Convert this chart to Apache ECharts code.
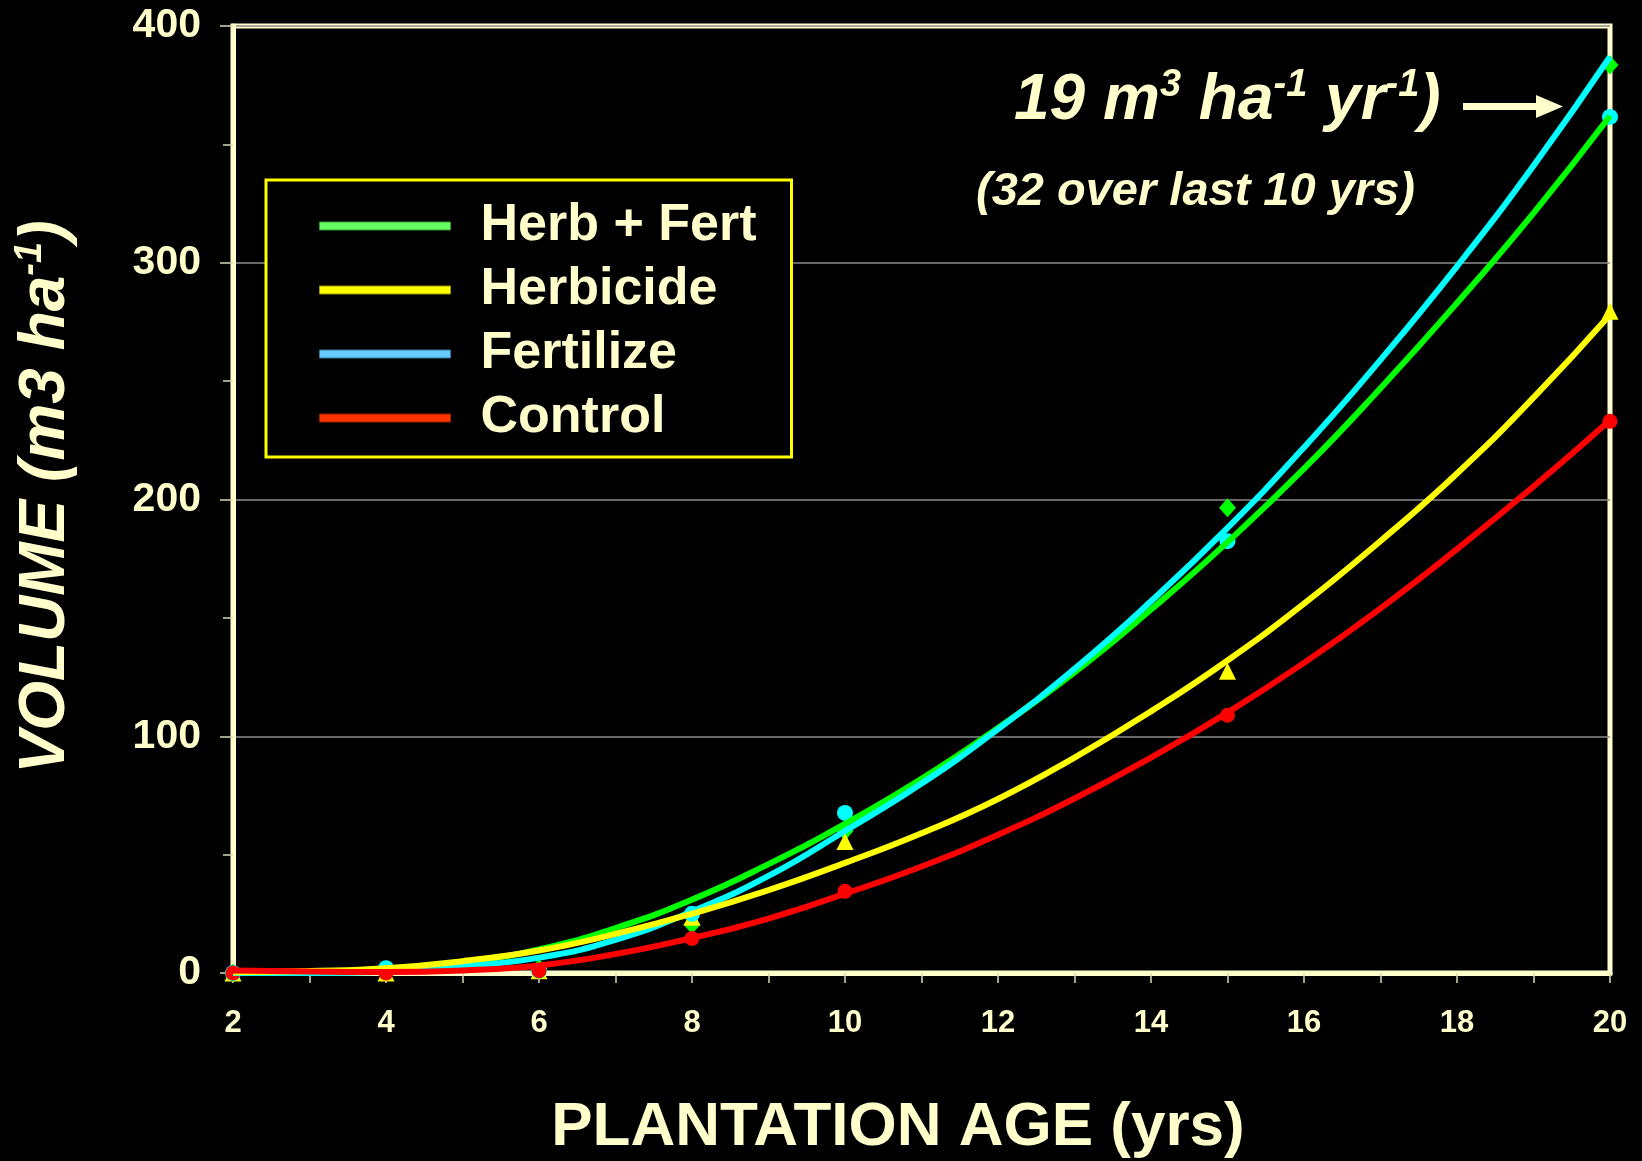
<!DOCTYPE html>
<html>
<head>
	<meta charset="utf-8">
	<title>Volume vs plantation age</title>
	<style>
		html, body { margin: 0; padding: 0; background: #000; }
	</style>
</head>
<body>
<script type="text/javascript" src="https://cdn.jsdelivr.net/npm/echarts@6/dist/echarts.min.js"></script>
<div id="container" style="width: 1642px;height: 1161px;"></div>
<script type="text/javascript">
	// measured points (markers)
	var ages = [2, 4, 6, 8, 10, 15, 20];
	var herbFertPts = [0, 0.5, 2, 20.5, 60, 196.5, 383.5];
	var herbicidePts = [0, 0, 1, 23.5, 55.5, 127.5, 279.5];
	var fertilizePts = [0, 2, 1, 25, 67.6, 182.4, 361.6];
	var controlPts = [0, 0, 1, 14.6, 34.5, 108.9, 233];

	// fitted curves at each year
	var fitAges = [2, 3, 4, 5, 6, 7, 8, 9, 10, 11, 12, 13, 14, 15, 16, 17, 18, 19, 20];
	var herbFertFit = [0.5, 0.2, 1.2, 4.5, 10, 19, 31, 46, 63, 82, 103.5, 127, 153.5, 182, 213, 247, 283, 321, 362];
	var fertilizeFit = [0, 0, 0.5, 2.8, 6.5, 14, 26, 41, 60, 80, 103, 128.5, 157, 188, 222, 259, 298.5, 341, 387];
	var herbicideFit = [0.3, 0.8, 2, 5, 9.5, 16.5, 25, 35, 46.5, 59, 73.5, 91, 110.5, 132, 156, 182.5, 211, 243, 278];
	var controlFit = [1.1, 0.6, 0.4, 1.1, 3.2, 8, 14.8, 23, 33.5, 45, 58.4, 73.7, 91, 110, 131, 154, 179, 205.5, 233.5];

	var cream = '#FFFFCC';
	var font = "'Liberation Sans', Arial, sans-serif";

	function pairs(xs, ys) {
		var out = [];
		for (var i = 0; i < xs.length; i++) {
			out.push([xs[i], ys[i]]);
		}
		return out;
	}

	var myChart = echarts.init(document.getElementById('container'));
	var option = {
		backgroundColor: '#000',
		animation: false,
		grid: {
			left: 233, top: 26, width: 1377, height: 947,
			show: true, borderColor: cream, borderWidth: 5,
			containLabel: false, outerBoundsMode: 'none'
		},
		legend: {
			orient: 'vertical',
			left: 266, top: 180,
			padding: [20, 31, 13, 53],
			itemGap: 12,
			itemWidth: 131, itemHeight: 8,
			backgroundColor: '#000',
			borderColor: '#FFFF00', borderWidth: 3,
			selectedMode: false,
			textStyle: {
				color: cream, fontSize: 52, fontWeight: 'bold', fontFamily: font,
				lineHeight: 52, width: 280, padding: [0, 0, 0, 25]
			},
			data: [
				{ name: 'Herb + Fert', icon: 'rect', itemStyle: { color: '#66FF66', opacity: 1, borderColor: '#339933', borderWidth: 1 } },
				{ name: 'Herbicide', icon: 'rect', itemStyle: { color: '#FFFF00', opacity: 1, borderColor: '#999900', borderWidth: 1 } },
				{ name: 'Fertilize', icon: 'rect', itemStyle: { color: '#66CCFF', opacity: 1, borderColor: '#337799', borderWidth: 1 } },
				{ name: 'Control', icon: 'rect', itemStyle: { color: '#FF3300', opacity: 1, borderColor: '#992200', borderWidth: 1 } }
			]
		},
		xAxis: {
			type: 'value', min: 2, max: 20, interval: 2,
			axisLine: { lineStyle: { color: cream, width: 5 } },
			axisTick: { show: true, length: 10, lineStyle: { color: '#d8d8b8', width: 1.5 } },
			minorTick: { show: true, splitNumber: 2, length: 10, lineStyle: { color: '#d8d8b8', width: 1.5 } },
			splitLine: { show: false },
			axisLabel: { color: cream, fontSize: 31, fontWeight: 'bold', fontFamily: font, margin: 35 }
		},
		yAxis: {
			type: 'value', min: 0, max: 400, interval: 100,
			axisLine: { show: true, lineStyle: { color: cream, width: 5 } },
			axisTick: { show: true, length: 13, lineStyle: { color: '#d8d8b8', width: 1.5 } },
			minorTick: { show: true, splitNumber: 2, length: 10, lineStyle: { color: '#d8d8b8', width: 1.5 } },
			splitLine: { show: true, lineStyle: { color: '#8c8c8c', width: 1.5 } },
			axisLabel: { color: cream, fontSize: 41, fontWeight: 'bold', fontFamily: font, margin: 32 }
		},
		series: [
			{ name: 'Herb + Fert', type: 'scatter', symbol: 'diamond', symbolSize: [17, 19], itemStyle: { color: '#00FF00', opacity: 1 }, data: pairs(ages, herbFertPts) },
			{ name: 'Herbicide', type: 'scatter', symbol: 'triangle', symbolSize: 17, itemStyle: { color: '#FFFF00', opacity: 1 }, data: pairs(ages, herbicidePts) },
			{ name: 'Fertilize', type: 'scatter', symbol: 'circle', symbolSize: 16, itemStyle: { color: '#00FFFF', opacity: 1 }, data: pairs(ages, fertilizePts) },
			{ name: 'Control', type: 'scatter', symbol: 'circle', symbolSize: 15, itemStyle: { color: '#FF0000', opacity: 1 }, data: pairs(ages, controlPts) },
			{ name: 'Herb + Fert', type: 'line', smooth: true, showSymbol: false, lineStyle: { color: '#00FF00', width: 6 }, itemStyle: { color: '#00FF00' }, data: pairs(fitAges, herbFertFit) },
			{ name: 'Fertilize', type: 'line', smooth: true, showSymbol: false, lineStyle: { color: '#00FFFF', width: 6 }, itemStyle: { color: '#00FFFF' }, data: pairs(fitAges, fertilizeFit) },
			{ name: 'Herbicide', type: 'line', smooth: true, showSymbol: false, lineStyle: { color: '#FFFF00', width: 6 }, itemStyle: { color: '#FFFF00' }, data: pairs(fitAges, herbicideFit) },
			{ name: 'Control', type: 'line', smooth: true, showSymbol: false, lineStyle: { color: '#FF0000', width: 6 }, itemStyle: { color: '#FF0000' }, data: pairs(fitAges, controlFit) }
		],
		graphic: [
			{
				// y axis title
				type: 'text', x: 46, y: 497, rotation: Math.PI / 2,
				style: {
					text: '{a|VOLUME (m3 ha}{s|-1}{a|)}',
					align: 'center', verticalAlign: 'middle',
					rich: {
						a: { fill: cream, fontSize: 64, fontWeight: 'bold', fontStyle: 'italic', fontFamily: font, lineHeight: 68 },
						s: { fill: cream, fontSize: 38, fontWeight: 'bold', fontStyle: 'italic', fontFamily: font, verticalAlign: 'top', lineHeight: 42 }
					}
				}
			},
			{
				// x axis title
				type: 'text', x: 898, y: 1128,
				style: {
					text: 'PLANTATION AGE (yrs)', fill: cream,
					fontSize: 62, fontWeight: 'bold', fontFamily: font,
					align: 'center', verticalAlign: 'middle'
				}
			},
			{
				type: 'text', x: 1014, y: 101,
				style: {
					text: '{b|19 m}{s|3}{b| ha}{s|-1}{b| yr}{s|-1}{b|)}',
					align: 'left', verticalAlign: 'middle',
					rich: {
						b: { fill: cream, fontSize: 64, fontWeight: 'bold', fontStyle: 'italic', fontFamily: font, lineHeight: 68 },
						s: { fill: cream, fontSize: 38, fontWeight: 'bold', fontStyle: 'italic', fontFamily: font, verticalAlign: 'top', lineHeight: 46 }
					}
				}
			},
			{
				type: 'text', x: 976, y: 192,
				style: {
					text: '(32 over last 10 yrs)', fill: cream,
					fontSize: 47, fontWeight: 'bold', fontStyle: 'italic', fontFamily: font,
					align: 'left', verticalAlign: 'middle'
				}
			},
			{
				type: 'line', shape: { x1: 1463, y1: 106.5, x2: 1540, y2: 106.5 },
				style: { stroke: cream, lineWidth: 7 }
			},
			{
				type: 'polygon', shape: { points: [[1536, 95], [1563, 106.5], [1536, 118]] },
				style: { fill: cream }
			}
		]
	};
	myChart.setOption(option);

	window.addEventListener('resize', myChart.resize);
</script>
</body>
</html>
